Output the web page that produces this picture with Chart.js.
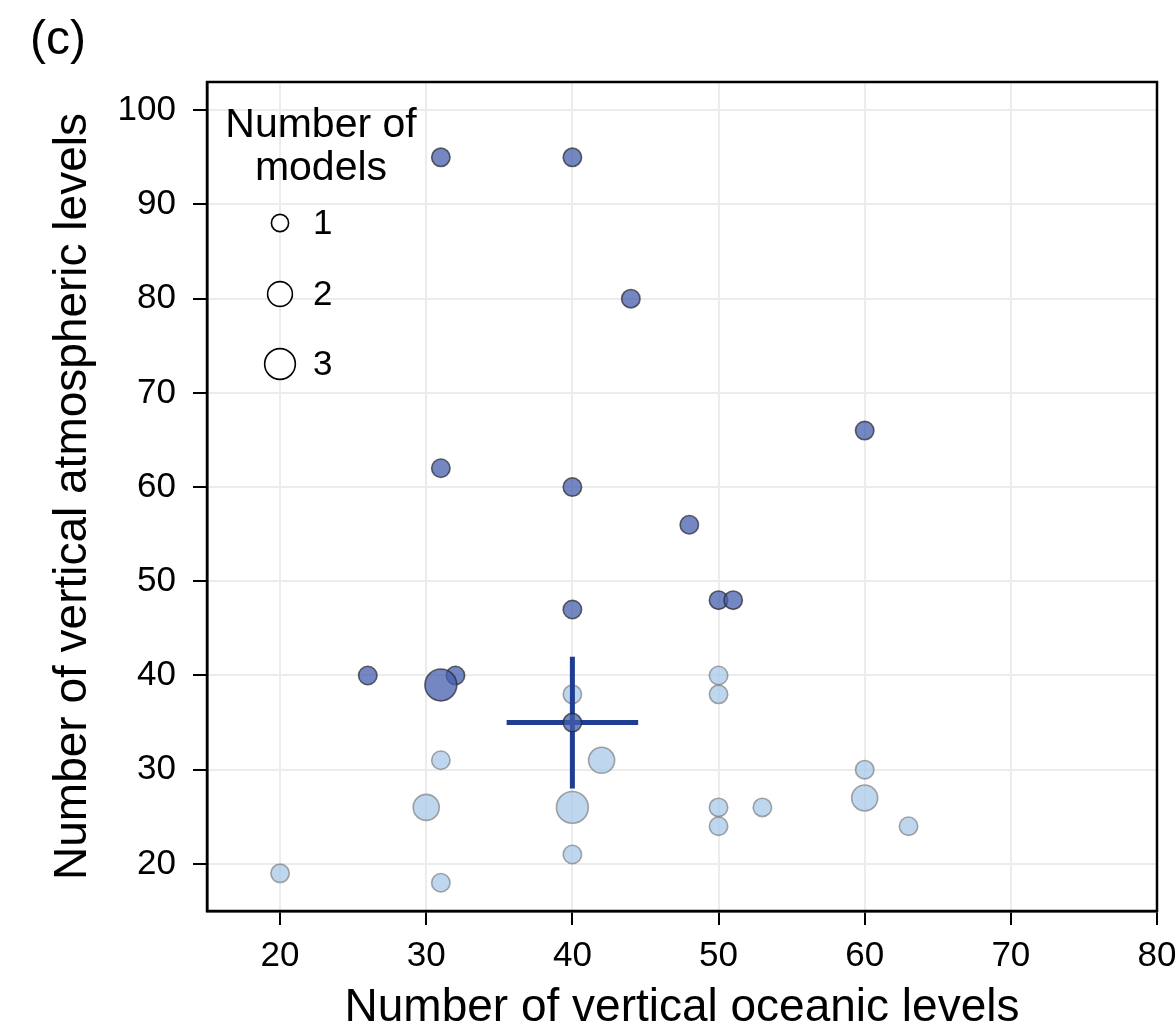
<!DOCTYPE html>
<html><head><meta charset="utf-8">
<script src="https://cdn.jsdelivr.net/npm/chart.js@4.4.1/dist/chart.umd.min.js"></script>
<style>html,body{margin:0;padding:0;background:#fff}#wrap{width:1175px;height:1036px;position:relative}</style>
</head><body><div id="wrap"><canvas id="c"></canvas></div>
<script>
// Dark (higher atmospheric) group
const darkOcean = [31, 40, 44, 60, 31, 40, 48, 50, 51, 40, 26, 32, 31, 40];
const darkAtmos = [95, 95, 80, 66, 62, 60, 56, 48, 48, 47, 40, 40, 39, 35];
const darkCount = [1, 1, 1, 1, 1, 1, 1, 1, 1, 1, 1, 1, 3, 1];
// Light group
const lightOcean = [40, 50, 50, 31, 42, 30, 40, 50, 53, 50, 60, 60, 63, 40, 20, 31];
const lightAtmos = [38, 40, 38, 31, 31, 26, 26, 26, 26, 24, 30, 27, 24, 21, 19, 18];
const lightCount = [1, 1, 1, 1, 2, 2, 3, 1, 1, 1, 1, 2, 1, 1, 1, 1];
// Cross (centre and extents)
const crossCenter = [40, 35];
const crossOceanRange = [35.5, 44.5];
const crossAtmosRange = [28, 42];
// Ticks
const xTicks = [20, 30, 40, 50, 60, 70, 80];
const yTicks = [20, 30, 40, 50, 60, 70, 80, 90, 100];
const legendCounts = [1, 2, 3];
const panelLabel = '(c)';
const xTitle = 'Number of vertical oceanic levels';
const yTitle = 'Number of vertical atmospheric levels';
const legendTitle = ['Number of', 'models'];

const FONT = "'Liberation Sans', Arial, Helvetica, sans-serif";
const sizeFor = n => 9.2 * Math.sqrt(n);

const toPts = (xs, ys) => xs.map((x, i) => ({x: x, y: ys[i]}));

const darkPts = toPts(darkOcean, darkAtmos);
const lightPts = toPts(lightOcean, lightAtmos);
const crossPts = [
  {x: crossOceanRange[0], y: crossCenter[1]},
  {x: crossOceanRange[1], y: crossCenter[1]},
  {x: NaN, y: NaN},
  {x: crossCenter[0], y: crossAtmosRange[0]},
  {x: crossCenter[0], y: crossAtmosRange[1]}
];

const framePlugin = {
  id: 'frame',
  afterDraw(chart) {
    const {ctx, chartArea: a} = chart;
    ctx.save();
    ctx.strokeStyle = '#000';
    ctx.lineWidth = 2.5;
    ctx.strokeRect(a.left, a.top, a.right - a.left, a.bottom - a.top);
    // panel label
    ctx.fillStyle = '#000';
    ctx.font = '48px ' + FONT;
    ctx.textAlign = 'left';
    ctx.textBaseline = 'alphabetic';
    ctx.fillText(panelLabel, 30, 54);
    // size legend
    const xs = chart.scales.x;
    const cx = 280, tx = 321;
    ctx.font = '41px ' + FONT;
    ctx.textAlign = 'center';
    ctx.fillText(legendTitle[0], tx, 137);
    ctx.fillText(legendTitle[1], tx, 180);
    const ys = [223, 294, 364];
    ctx.font = '35px ' + FONT;
    ctx.textAlign = 'left';
    ctx.textBaseline = 'middle';
    legendCounts.forEach((n, i) => {
      ctx.beginPath();
      ctx.arc(cx, ys[i], sizeFor(n) - 0.6, 0, Math.PI * 2);
      ctx.fillStyle = '#fff';
      ctx.fill();
      ctx.lineWidth = 1.6;
      ctx.strokeStyle = '#000';
      ctx.stroke();
      ctx.fillStyle = '#000';
      ctx.fillText(String(n), 313, ys[i] + 1);
    });
    ctx.restore();
  }
};

new Chart(document.getElementById('c'), {
  type: 'scatter',
  data: {
    datasets: [
      {
        label: 'dark',
        data: darkPts,
        order: 1,
        backgroundColor: 'rgba(70,95,175,0.75)',
        borderColor: 'rgba(40,40,40,0.7)',
        borderWidth: 1.6,
        pointRadius: ctx => sizeFor(darkCount[ctx.dataIndex]),
        pointHoverRadius: ctx => sizeFor(darkCount[ctx.dataIndex])
      },
      {
        label: 'cross',
        type: 'line',
        data: crossPts,
        order: 2,
        showLine: true,
        spanGaps: false,
        borderColor: '#1f3d91',
        borderWidth: 5,
        pointRadius: 0,
        fill: false
      },
      {
        label: 'light',
        data: lightPts,
        order: 3,
        backgroundColor: 'rgba(168,202,232,0.75)',
        borderColor: 'rgba(110,110,110,0.6)',
        borderWidth: 1.6,
        pointRadius: ctx => sizeFor(lightCount[ctx.dataIndex]),
        pointHoverRadius: ctx => sizeFor(lightCount[ctx.dataIndex])
      }
    ]
  },
  options: {
    responsive: true,
    maintainAspectRatio: false,
    animation: false,
    layout: {padding: {top: 82, right: 18, bottom: 0, left: 0}},
    plugins: {legend: {display: false}, tooltip: {enabled: false}},
    scales: {
      x: {
        type: 'linear',
        min: 15, max: 80,
        afterBuildTicks: s => { s.ticks = xTicks.map(v => ({value: v})); },
        afterFit: s => { s.height = 125; s.paddingLeft = 0; s.paddingRight = 0; },
        ticks: {color: '#000', font: {family: FONT, size: 35}, padding: 10, maxRotation: 0, autoSkip: false},
        grid: {color: '#ececec', lineWidth: 2, tickColor: '#000', tickLength: 14, tickWidth: 2},
        border: {color: '#000', width: 2.5},
        title: {display: true, text: xTitle, color: '#000', font: {family: FONT, size: 46}, padding: {top: 0, bottom: 0}}
      },
      y: {
        type: 'linear',
        min: 15, max: 103,
        afterBuildTicks: s => { s.ticks = yTicks.map(v => ({value: v})); },
        afterFit: s => { s.width = 207; s.paddingTop = 0; s.paddingBottom = 0; },
        ticks: {color: '#000', font: {family: FONT, size: 35}, padding: 17, autoSkip: false},
        grid: {color: '#ececec', lineWidth: 2, tickColor: '#000', tickLength: 14, tickWidth: 2},
        border: {color: '#000', width: 2.5},
        title: {display: true, text: yTitle, color: '#000', font: {family: FONT, size: 46}, padding: {top: 46, bottom: 0}}
      }
    }
  },
  plugins: [framePlugin]
});
</script></body></html>
